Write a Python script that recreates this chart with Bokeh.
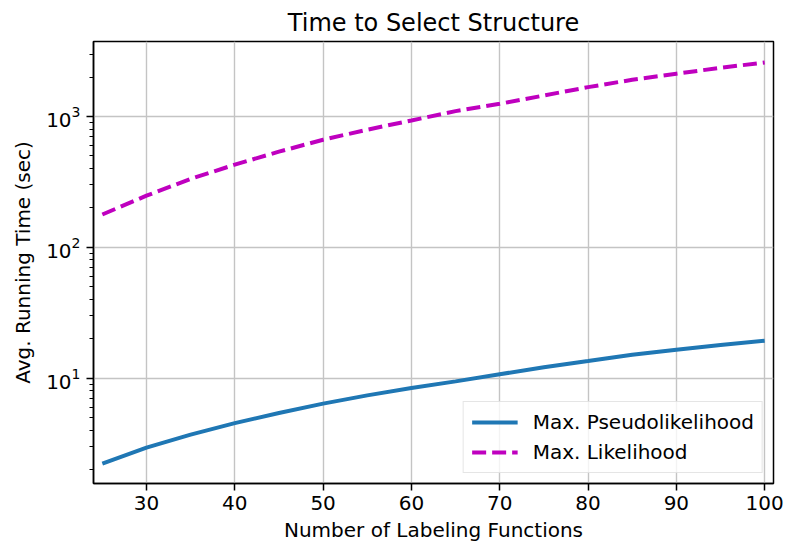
from bokeh.plotting import figure
from bokeh.models import Range1d, FixedTicker, Legend, LegendItem, LogTicker
from bokeh.embed import file_html
from bokeh.resources import INLINE

# Data
n_lfs = [25, 30, 35, 40, 45, 50, 55, 60, 65, 70, 75, 80, 85, 90, 95, 100]
pseudolikelihood = [2.22, 2.94, 3.7, 4.53, 5.41, 6.38, 7.38, 8.4, 9.44, 10.7,
                    12.1, 13.5, 15.1, 16.5, 17.9, 19.3]
likelihood = [178, 248, 333, 428, 538, 664, 792, 932, 1098, 1250,
              1446, 1675, 1906, 2120, 2354, 2584]
x_ticks = [30, 40, 50, 60, 70, 80, 90, 100]

FONT = "DejaVu Sans"

p = figure(width=787, height=551, y_axis_type="log",
           x_range=Range1d(24, 101), y_range=Range1d(1.565, 3740),
           output_backend="svg", toolbar_location=None,
           title="Time to Select Structure",
           min_border_left=93, min_border_right=14,
           min_border_top=41, min_border_bottom=68)

p.background_fill_color = "white"
p.border_fill_color = "white"
p.outline_line_color = "black"
p.outline_line_width = 1.5
p.outline_line_alpha = 1.0

p.title.text_font = FONT
p.title.text_font_size = "24px"
p.title.text_font_style = "normal"
p.title.text_color = "black"
p.title.align = "center"
p.title.standoff = 9

r1 = p.line(n_lfs, pseudolikelihood, line_color="#1f77b4", line_width=4)
r2 = p.line(n_lfs, likelihood, line_color="#bf00bf", line_width=4,
            line_dash="14 6")

# axes
xa = p.xaxis[0]
ya = p.yaxis[0]
xa.ticker = FixedTicker(ticks=x_ticks)
ya.ticker = LogTicker(num_minor_ticks=10)
for ax in (xa, ya):
    ax.axis_line_color = "black"
    ax.axis_line_width = 1.5
    ax.major_tick_line_color = "black"
    ax.major_tick_line_width = 1.5
    ax.major_tick_in = 0
    ax.major_tick_out = 7
    ax.minor_tick_line_color = "black"
    ax.minor_tick_line_width = 1.1
    ax.minor_tick_in = 0
    ax.minor_tick_out = 4
    ax.major_label_text_font = FONT
    ax.major_label_text_font_size = "20px"
    ax.major_label_text_color = "black"
    ax.axis_label_text_font = FONT
    ax.axis_label_text_font_size = "20px"
    ax.axis_label_text_font_style = "normal"
    ax.axis_label_text_color = "black"
xa.minor_tick_line_color = None
xa.major_label_standoff = 5
xa.axis_label_standoff = 5
ya.major_label_standoff = 6
ya.axis_label_standoff = 8
xa.axis_label = "Number of Labeling Functions"
ya.axis_label = "Avg. Running Time (sec)"

p.xgrid.grid_line_color = "#c4c4c4"
p.ygrid.grid_line_color = "#c4c4c4"
p.xgrid.grid_line_width = 1.4
p.ygrid.grid_line_width = 1.4

legend = Legend(items=[LegendItem(label="Max. Pseudolikelihood", renderers=[r1]),
                       LegendItem(label="Max. Likelihood", renderers=[r2])],
                location="bottom_right")
legend.margin = 10
legend.padding = 8
legend.spacing = 6
legend.glyph_width = 46
legend.label_standoff = 15
legend.label_text_font = FONT
legend.label_text_font_size = "20px"
legend.label_text_color = "black"
legend.border_line_color = "#cccccc"
legend.border_line_width = 1.2
legend.background_fill_color = "white"
legend.background_fill_alpha = 0.8
p.add_layout(legend)

open("out.html", "w").write(file_html(p, INLINE))
